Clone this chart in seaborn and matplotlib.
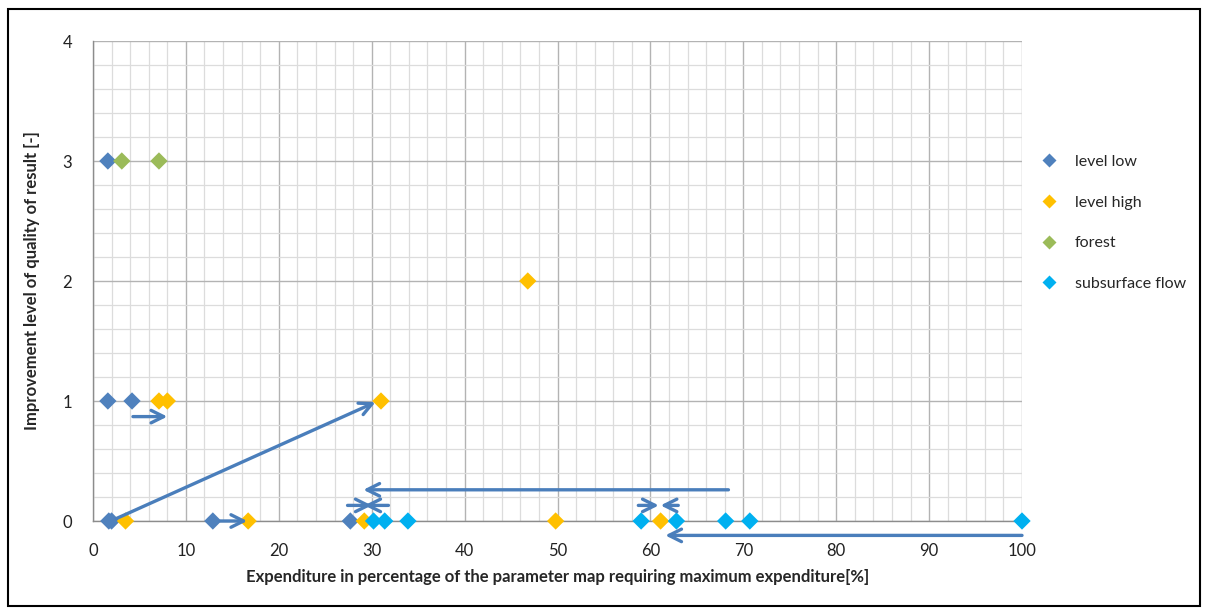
import matplotlib
matplotlib.use("Agg")
import matplotlib.pyplot as plt
from matplotlib.patches import Rectangle
from matplotlib.ticker import MultipleLocator
import numpy as np
import pandas as pd
import seaborn as sns

# Expenditure [%] and improvement level for each parameter map variant
low_x = [1.6, 1.6, 4.2, 1.7, 2.0, 12.9, 27.7]
low_y = [3, 1, 1, 0, 0, 0, 0]

high_x = [3.5, 7.1, 8.0, 31.0, 16.7, 46.8, 29.2, 49.8, 61.1]
high_y = [0, 1, 1, 1, 0, 2, 0, 0, 0]

forest_x = [3.1, 7.1]
forest_y = [3, 3]

sub_x = [30.2, 31.4, 33.9, 59.0, 62.8, 68.1, 70.7, 100.0]
sub_y = [0, 0, 0, 0, 0, 0, 0, 0]

series = ["level low", "level high", "forest", "subsurface flow"]
colors = ["#4F81BD", "#FFC000", "#9BBB59", "#00B0F0"]

# Arrows showing how expenditure shifts between variants: (x_start, y_start, x_end, y_end)
arrows = [
    (4.3, 0.87, 8.0, 0.87),
    (2.5, 0.02, 30.4, 0.99),
    (13.7, 0.0, 16.6, 0.0),
    (68.4, 0.26, 29.1, 0.26),
    (27.4, 0.13, 30.0, 0.13),
    (31.8, 0.13, 29.2, 0.13),
    (58.7, 0.13, 60.9, 0.13),
    (63.0, 0.13, 61.1, 0.13),
    (100.0, -0.12, 61.6, -0.12),
]

df = pd.DataFrame({
    "x": low_x + high_x + forest_x + sub_x,
    "y": low_y + high_y + forest_y + sub_y,
    "series": (["level low"] * len(low_x) + ["level high"] * len(high_x)
               + ["forest"] * len(forest_x) + ["subsurface flow"] * len(sub_x)),
})

sns.set_style("white")
plt.rcParams["font.family"] = ["Lato", "DejaVu Sans"]

fig = plt.figure(figsize=(12.08, 6.14), dpi=100)
ax = fig.add_axes([93 / 1208, 1 - 521 / 614, (1022 - 93) / 1208, (521 - 41) / 614])

sns.scatterplot(data=df, x="x", y="y", hue="series", hue_order=series,
                palette=colors, marker="D", s=78, edgecolor="none", ax=ax,
                zorder=4, clip_on=False)

for x0, y0, x1, y1 in arrows:
    ax.annotate("", xy=(x1, y1), xytext=(x0, y0), annotation_clip=False,
                arrowprops=dict(arrowstyle="->,head_length=0.9,head_width=0.45",
                                color="#4A7EBB", lw=2.4, shrinkA=0, shrinkB=0),
                zorder=5)

ax.set_xlim(0, 100)
ax.set_ylim(0, 4)
ax.xaxis.set_major_locator(MultipleLocator(10))
ax.xaxis.set_minor_locator(MultipleLocator(2))
ax.yaxis.set_major_locator(MultipleLocator(1))
ax.yaxis.set_minor_locator(MultipleLocator(0.2))
ax.grid(which="major", color="#b3b3b3", linewidth=1.0, zorder=0)
ax.grid(which="minor", color="#dcdcdc", linewidth=0.9, zorder=0)
ax.set_axisbelow(True)

for side in ["top", "right"]:
    ax.spines[side].set_visible(False)
for side in ["left", "bottom"]:
    ax.spines[side].set_color("#8c8c8c")
    ax.spines[side].set_linewidth(1.0)

ax.tick_params(axis="x", which="major", direction="out", length=5,
               color="#8c8c8c", labelsize=12, labelcolor="#222222", pad=11)
ax.tick_params(axis="y", which="major", direction="out", length=5,
               color="#8c8c8c", labelsize=12, labelcolor="#222222", pad=10)
ax.tick_params(axis="both", which="minor", length=0)

ax.set_xlabel("Expenditure in percentage of the parameter map requiring maximum expenditure[%]",
              fontsize=12, fontweight="bold", labelpad=7)
ax.set_ylabel("Improvement level of quality of result [-]",
              fontsize=12, fontweight="bold", labelpad=16)

leg = ax.legend(loc="upper left", bbox_to_anchor=(1.0, 0.786), frameon=False,
                fontsize=11.5, labelspacing=1.65, handletextpad=0.6,
                borderaxespad=0.3, markerscale=0.75)

fig.patches.append(Rectangle((8 / 1208, 1 - 606 / 614), 1192 / 1208, 597 / 614,
                             transform=fig.transFigure, fill=False,
                             edgecolor="black", linewidth=1.5))

fig.savefig("out.png", dpi=100)
